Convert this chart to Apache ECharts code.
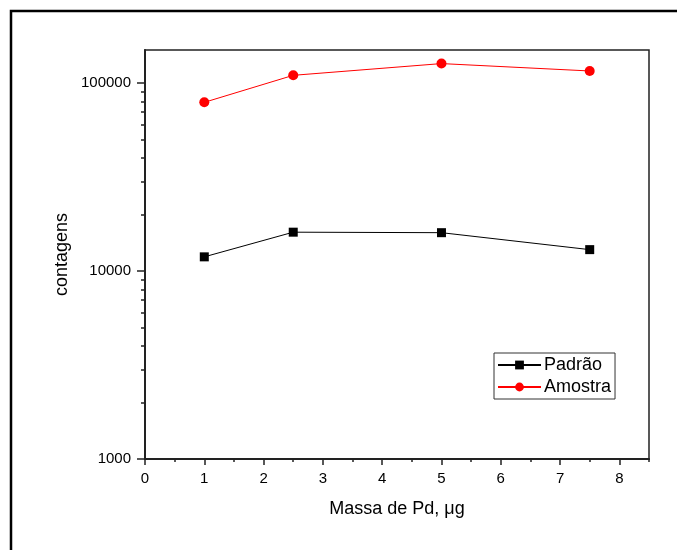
<!DOCTYPE html>
<html>
<head>
    <meta charset="UTF-8">
    <title>contagens x Massa de Pd</title>
    <script src="https://cdn.jsdelivr.net/npm/echarts@6/dist/echarts.min.js"></script>
    <style>
        html, body { margin: 0; padding: 0; background: #fff; }
    </style>
</head>
<body>
    <div id="main" style="width: 677px; height: 550px;"></div>
    <script>
        // dados
        var massa = [1, 2.5, 5, 7.5];
        var padrao = [11900, 16100, 16000, 13000];
        var amostra = [79000, 110000, 127000, 116000];

        // marcas dos eixos
        var xTicks = [0, 1, 2, 3, 4, 5, 6, 7, 8];
        var xMinorTicks = [0.5, 1.5, 2.5, 3.5, 4.5, 5.5, 6.5, 7.5, 8.5];
        var yTicks = [1000, 10000, 100000];
        var yMinorTicks = [2000, 3000, 4000, 5000, 6000, 7000, 8000, 9000,
            20000, 30000, 40000, 50000, 60000, 70000, 80000, 90000];

        var yMin = 1000, yMax = 150000;
        var fonte = 'Liberation Sans, Arial, sans-serif';

        var myChart = echarts.init(document.getElementById('main'));

        function pares(ys) {
            return massa.map(function (x, i) { return [x, ys[i]]; });
        }

        var option = {
            backgroundColor: '#fff',
            animation: false,
            graphic: [{
                // moldura externa
                type: 'rect',
                shape: { x: 11, y: 11, width: 720, height: 620 },
                style: { fill: 'none', stroke: '#000', lineWidth: 2.5 },
                silent: true
            }],
            grid: {
                left: 145, right: 28, top: 50, bottom: 91,
                show: true,
                borderColor: '#222',
                borderWidth: 1.5,
                backgroundColor: 'transparent'
            },
            legend: {
                orient: 'vertical',
                left: 494, top: 353,
                padding: [3, 4, 3, 3],
                itemGap: 4,
                itemWidth: 43,
                itemHeight: 11,
                borderColor: '#333',
                borderWidth: 1,
                textStyle: { fontFamily: fonte, fontSize: 18, color: '#000', padding: [0, 0, 0, -2] },
                data: ['Padrão', 'Amostra']
            },
            xAxis: [{
                type: 'value',
                min: 0, max: 8.5,
                position: 'bottom',
                name: 'Massa de Pd, μg',
                nameLocation: 'middle',
                nameGap: 41,
                nameTextStyle: { fontFamily: fonte, fontSize: 18, color: '#000' },
                axisLine: { show: true, lineStyle: { color: '#222', width: 2 } },
                axisTick: { show: true, customValues: xTicks, length: 6, lineStyle: { color: '#222', width: 1.5 } },
                axisLabel: { customValues: xTicks, fontFamily: fonte, fontSize: 15, color: '#000', margin: 12 },
                splitLine: { show: false }
            }, {
                type: 'value',
                min: 0, max: 8.5,
                position: 'bottom',
                axisLine: { show: false },
                axisTick: { show: true, customValues: xMinorTicks, length: 3, lineStyle: { color: '#222', width: 1.5 } },
                axisLabel: { show: false },
                splitLine: { show: false }
            }],
            yAxis: [{
                type: 'log',
                logBase: 10,
                min: yMin, max: yMax,
                position: 'left',
                name: 'contagens',
                nameLocation: 'middle',
                nameGap: 74,
                nameRotate: 90,
                nameTextStyle: { fontFamily: fonte, fontSize: 18, color: '#000' },
                axisLine: { show: true, lineStyle: { color: '#222', width: 2 } },
                axisTick: { show: false },
                axisLabel: { show: false },
                splitLine: { show: false }
            }, {
                // marcas principais e rótulos da escala log
                type: 'value',
                min: Math.log10(yMin), max: Math.log10(yMax),
                position: 'left',
                axisLine: { show: false },
                axisTick: { show: true, customValues: yTicks.map(Math.log10), length: 8, lineStyle: { color: '#222', width: 1.5 } },
                axisLabel: {
                    customValues: yTicks.map(Math.log10),
                    fontFamily: fonte, fontSize: 15, color: '#000', margin: 14,
                    formatter: function (v) { return String(Math.round(Math.pow(10, v))); }
                },
                splitLine: { show: false }
            }, {
                // marcas secundárias
                type: 'value',
                min: Math.log10(yMin), max: Math.log10(yMax),
                position: 'left',
                axisLine: { show: false },
                axisTick: { show: true, customValues: yMinorTicks.map(Math.log10), length: 4, lineStyle: { color: '#222', width: 1.5 } },
                axisLabel: { show: false },
                splitLine: { show: false }
            }],
            series: [{
                name: 'Padrão',
                type: 'line',
                xAxisIndex: 0, yAxisIndex: 0,
                data: pares(padrao),
                symbol: 'rect',
                symbolSize: 9,
                itemStyle: { color: '#000' },
                lineStyle: { color: '#000', width: 1 }
            }, {
                name: 'Amostra',
                type: 'line',
                xAxisIndex: 0, yAxisIndex: 0,
                data: pares(amostra),
                symbol: 'circle',
                symbolSize: 10,
                itemStyle: { color: '#ff0000' },
                lineStyle: { color: '#ff0000', width: 1 }
            }]
        };

        myChart.setOption(option);
    </script>
</body>
</html>
